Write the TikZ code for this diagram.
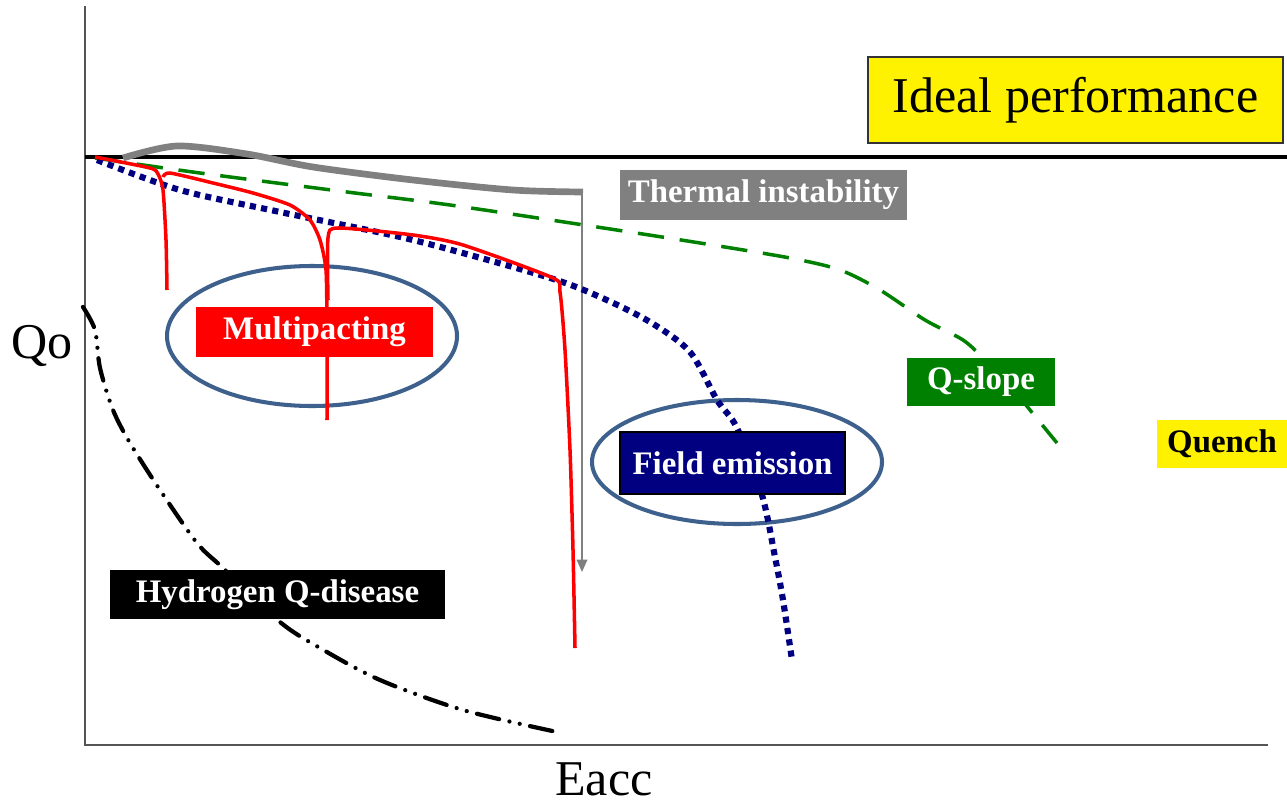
\documentclass[tikz,border=0pt]{standalone}
\usepackage{fontspec}
\setmainfont{Liberation Serif}
\usetikzlibrary{arrows.meta}
\definecolor{ellblue}{RGB}{62,96,140}
\definecolor{fenavy}{RGB}{0,0,128}
\definecolor{qgreen}{RGB}{0,128,0}
\definecolor{thgray}{RGB}{128,128,128}
\definecolor{axgray}{RGB}{85,85,85}
\tikzset{
  tag/.style={text=white, font=\fontsize{18.7}{20}\selectfont\bfseries, inner sep=0pt},
  ring/.style={draw=ellblue, line width=2.3pt},
  big/.style={font=\fontsize{28.5}{30}\selectfont}
}

\begin{document}
\begin{tikzpicture}[x=0.02cm, y=-0.02cm]
            \useasboundingbox (0,0) rectangle (1287,808);
            % axes and ideal line
            \draw [axgray, line width=1.2pt] (85,6) -- (85,745) -- (1268,745);
            \draw [line width=2.5pt] (85,157) -- (1287,157);
            \node [big] (Q) at (42,346) {Qo};
            \node [big] (E) at (604,779) {Eacc};
            % rings
            \draw [ring] (312,336) ellipse (145 and 70);
            \draw [ring] (737,462) ellipse (145 and 62);
            % curves
            \draw [thgray, line width=3.8pt] plot [smooth] coordinates {(123,158) (177,146) (247,154) (313,167) (413,180) (513,190) (583,192)};
            \coordinate (T1) at (582,192);
            \coordinate (T2) at (582,572);
            \draw [thgray, line width=0.9pt, -{Triangle[length=7pt,width=6pt]}] (T1) -- (T2);
            \draw [qgreen, line width=2pt, dash pattern=on 15pt off 9pt] plot [smooth] coordinates {(95,158) (200,173) (347,192) (450,205) (597,227) (700,243) (790,258) (840,270) (880,290) (925,320) (963,340) (985,360) (1010,385) (1030,410) (1057,443)};
            \draw [fenavy, line width=3.5pt, dash pattern=on 3.5pt off 3pt] plot [smooth] coordinates {(97,160) (180,190) (280,212) (413,240) (547,277) (600,297) (650,322) (690,352) (717,400) (737,428) (762,495) (775,557) (783,600) (792,660)};
            \draw [red, line width=2pt] plot [smooth, tension=0.4] coordinates {(95,157) (150,168) (158,174) (163,190) (166,240) (167,290)};
            \draw [red, line width=2pt] plot [smooth, tension=0.4] coordinates {(163,177) (170,173) (213,183) (253,193) (290,205) (310,220) (320,240) (326,270) (327,330) (327,420)};
            \draw [red, line width=2pt] plot [smooth, tension=0.4] coordinates {(328,300) (328,238) (338,228) (413,235) (463,245) (553,278) (560,292) (565,350) (570,450) (573,550) (575,648)};
            \draw [line width=2.4pt, line cap=round, dash pattern=on 13pt off 6pt on 0pt off 6pt on 0pt off 6pt] plot [smooth] coordinates {(83,307) (95,330) (100,368) (113,410) (130,443) (160,490) (197,543) (223,568) (280,622) (320,648) (380,680) (463,710) (557,732)};
            % labels
            \node [big, fill=yellow, draw=black!80, line width=0.8pt, minimum width=415*0.02cm, minimum height=86*0.02cm, inner sep=0pt] (ideal) at (1075.5,100) {Ideal performance};
            \node [tag, fill=thgray, minimum width=287*0.02cm, minimum height=50*0.02cm] (therm) at (763.5,195) {Thermal instability};
            \node [tag, fill=red, minimum width=237*0.02cm, minimum height=50*0.02cm] (multi) at (314.5,332) {Multipacting};
            \node [tag, fill=fenavy, draw=black, line width=0.6pt, minimum width=225*0.02cm, minimum height=62*0.02cm] (field) at (732.5,463) {Field emission};
            \node [tag, fill=qgreen, minimum width=148*0.02cm, minimum height=48*0.02cm] (slope) at (981,382) {Q-slope};
            \node [tag, text=black, fill=yellow, minimum width=130*0.02cm, minimum height=48*0.02cm] (quench) at (1222,444) {Quench};
            \node [tag, fill=black, minimum width=335*0.02cm, minimum height=49*0.02cm] (hydro) at (277.5,594.5) {Hydrogen Q-disease};
        \end{tikzpicture}
\end{document}
